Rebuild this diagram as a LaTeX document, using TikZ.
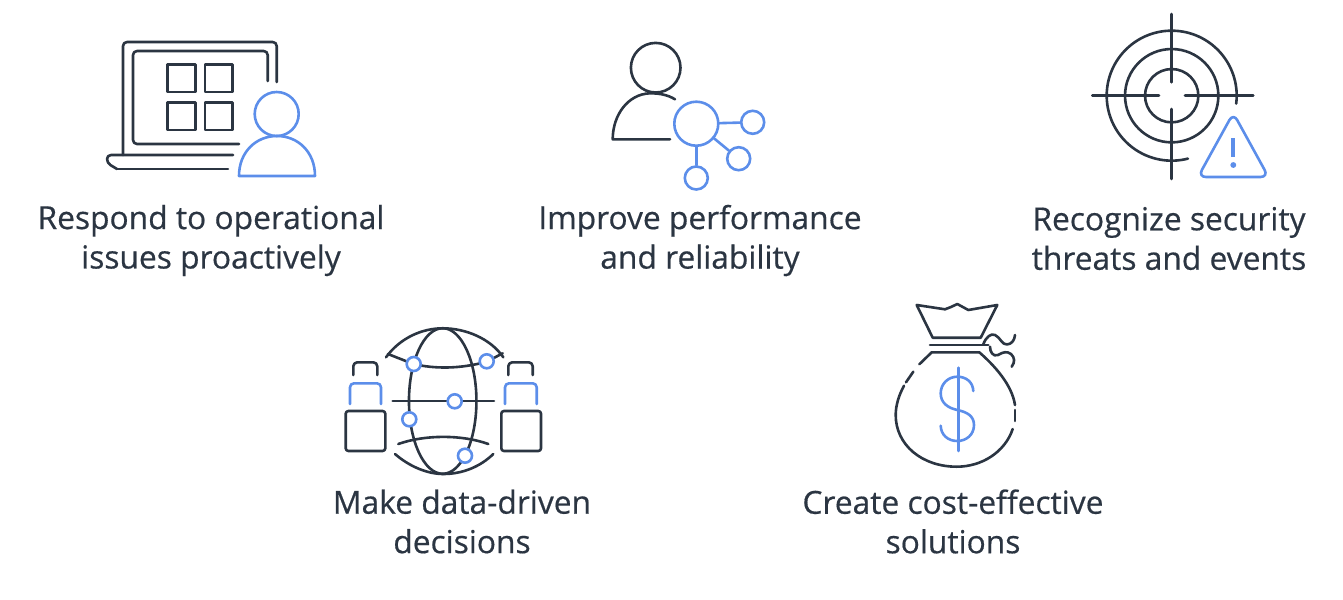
\documentclass[tikz,border=0pt]{standalone}
\usepackage{fontspec}
\setmainfont{Open Sans}
\newfontfamily\capfont[FakeBold=0.5]{Open Sans}
\definecolor{ink}{HTML}{2B3542}
\definecolor{blu}{HTML}{5C8EEA}
\tikzset{
 dk/.style={draw=ink,line width=1.95pt,line cap=round,line join=round},
 bl/.style={draw=blu,line width=1.95pt,line cap=round,line join=round},
 capt/.style={text=ink,font=\capfont\fontsize{23.8pt}{29.6pt}\selectfont,align=center,inner sep=0pt},
 hub/.style={circle,draw=blu,line width=1.95pt,fill=white,inner sep=0pt,minimum size=#1*0.75pt},
}
\begin{document}
\begin{tikzpicture}[x=0.75pt,y=-0.75pt]
\useasboundingbox (0,0) rectangle (1343,600);
% --- laptop
\draw[dk,rounded corners=3pt] (276.7,82) -- (276.7,42) -- (123,42) -- (123,155);
\draw[dk,rounded corners=3pt] (267.7,81) -- (267.7,51) -- (133,51) -- (133,144) -- (239,144);
\draw[dk,rounded corners=3pt] (233,155) -- (107,155) -- (107,163) -- (117,169);
\draw[dk] (117,169) -- (228,169);
\foreach \a/\b in {167.7/64.3,205/64.3,167.7/102.3,205/102.3}
  \draw[dk] (\a,\b) rectangle ++(27.6,27.7);
\draw[bl] (276.7,114) circle[radius=16.5pt];
\draw[bl] (239,176) .. controls (239,152) and (256,136) .. (277,136) .. controls (298,136) and (315,152) .. (315,176) -- cycle;
% --- person and network
\draw[dk] (655.7,67.7) circle[radius=18.6pt];
\draw[dk] (675,99.3) .. controls (668,95) and (660,93.3) .. (650,93.3) .. controls (628,94) and (612.7,115) .. (612.7,139.3) -- (670,139.3);
\node[hub=44] (hb) at (696.3,123.7) {};
\node[hub=23] (n1) at (752.7,122.3) {};
\node[hub=23] (n2) at (738.7,158.7) {};
\node[hub=23] (n3) at (696.3,178) {};
\draw[bl] (hb) -- (n1);
\draw[bl] (hb) -- (n2);
\draw[bl] (hb) -- (n3);
% --- target
\coordinate (tc) at (1171.7,95.7);
\draw[dk] (tc) circle[radius=20pt];
\draw[dk] (tc) circle[radius=35pt];
\draw[dk] (1236.2,103.6) arc[start angle=-7,end angle=284.5,radius=48.75pt];
\draw[dk] (1092.3,95.7) -- (1159,95.7);
\draw[dk] (1185,95.7) -- (1253.3,95.7);
\draw[dk] (1171.7,14) -- (1171.7,82.3);
\draw[dk] (1171.7,109) -- (1171.7,179);
\draw[bl,rounded corners=6pt] (1233.3,113) -- (1268.5,177) -- (1198,177) -- cycle;
\draw[bl,line width=3pt,line cap=butt] (1233.3,138) -- (1233.3,157);
\fill[blu] (1233.3,165) circle[radius=2.2pt];
% --- globe
\draw[dk] (442.7,401) ellipse[x radius=25.3pt,y radius=54.6pt];
\draw[dk] (386,357.3) .. controls (400,338) and (422,328.3) .. (442.7,328.3) .. controls (465,328.3) and (490,338) .. (503.3,357.3);
\draw[dk] (388,354) -- (413.3,364) .. controls (435,369) and (460,369) .. (486.7,361.7) -- (502.7,353.3);
\draw[dk] (392.7,401) -- (494,401);
\draw[dk] (398.3,444) .. controls (425,434.5) and (462,434.5) .. (488.3,444);
\draw[dk] (395,454) .. controls (410,467) and (428,474) .. (443.3,474) .. controls (462,474) and (480,467) .. (493.3,454);
\node[hub=14] (g1) at (413.7,364) {};
\node[hub=14] (g2) at (486.7,361.3) {};
\node[hub=14] (g3) at (454.7,401.3) {};
\node[hub=14] (g4) at (409.3,419.3) {};
\node[hub=14] (g5) at (465,455.7) {};
\draw[dk,rounded corners=2pt] (345.7,411) rectangle (385.3,451);
\draw[dk,rounded corners=2pt] (501.3,411) rectangle (541,451);
\draw[bl,rounded corners=3pt] (350,404) -- (350,383.3) -- (381,383.3) -- (381,404);
\draw[bl,rounded corners=3pt] (505,404) -- (505,383.3) -- (536.7,383.3) -- (536.7,404);
\draw[dk,rounded corners=3pt] (353.3,375) -- (353.3,362.3) -- (377.3,362.3) -- (377.3,375);
\draw[dk,rounded corners=3pt] (508.3,375) -- (508.3,362.3) -- (532.7,362.3) -- (532.7,375);
% --- money bag
\draw[dk] (916.7,305) -- (945,309.3) -- (951,307) -- (957.3,304) -- (968.3,310) -- (997.3,305) -- (980.7,337.7) -- (932.7,337.7) -- cycle;
\draw[dk] (930,345) -- (988.3,345);
\draw[dk] (919.3,364.3) -- (931.7,352.3) -- (979.3,352.3) .. controls (995,366) and (1012,385) .. (1015,405);
\draw[dk] (1015,410) -- (1015,421);
\draw[dk] (1012.7,429) .. controls (1005,452) and (982,466.7) .. (956.7,466.7) .. controls (922,466.7) and (895.7,445) .. (895.7,415) .. controls (895.7,405) and (899,395) .. (904,385.7);
\draw[dk] (906,382.3) -- (913.3,371.7);
\draw[dk] (983.3,344.3) .. controls (986,337) and (991,333) .. (995,335) .. controls (1000,337) and (1002,345) .. (1007,344.5) .. controls (1012,344) and (1014.5,340) .. (1015,335);
\draw[dk] (990,346.7) .. controls (990,352) and (993,357) .. (998,355) .. controls (1003,352) and (1007,351) .. (1011,354) .. controls (1015,358) and (1015,362) .. (1011.7,366.7);
\draw[bl] (958.3,367.7) -- (958.3,451);
\draw[bl] (973.3,391) .. controls (973,382) and (966,376.7) .. (957.3,376.7) .. controls (948,376.7) and (940.7,384) .. (940.7,393.3) .. controls (940.7,403) and (948,408) .. (957.3,410) .. controls (967,412) and (974,416) .. (974,425) .. controls (974,435) and (966,441) .. (957.3,441) .. controls (948,441) and (941,435) .. (940.7,425.7);
% --- captions
\node[capt] (c1) at (211,240.5) {Respond to operational\\issues proactively};
\node[capt] (c2) at (700,240.5) {Improve performance\\and reliability};
\node[capt] (c3) at (1169,238.5) {Recognize security\\threats and events};
\node[capt] (c4) at (462,521.5) {Make data-driven\\decisions};
\node[capt] (c5) at (953,521.5) {Create cost-effective\\solutions};
\end{tikzpicture}
\end{document}
